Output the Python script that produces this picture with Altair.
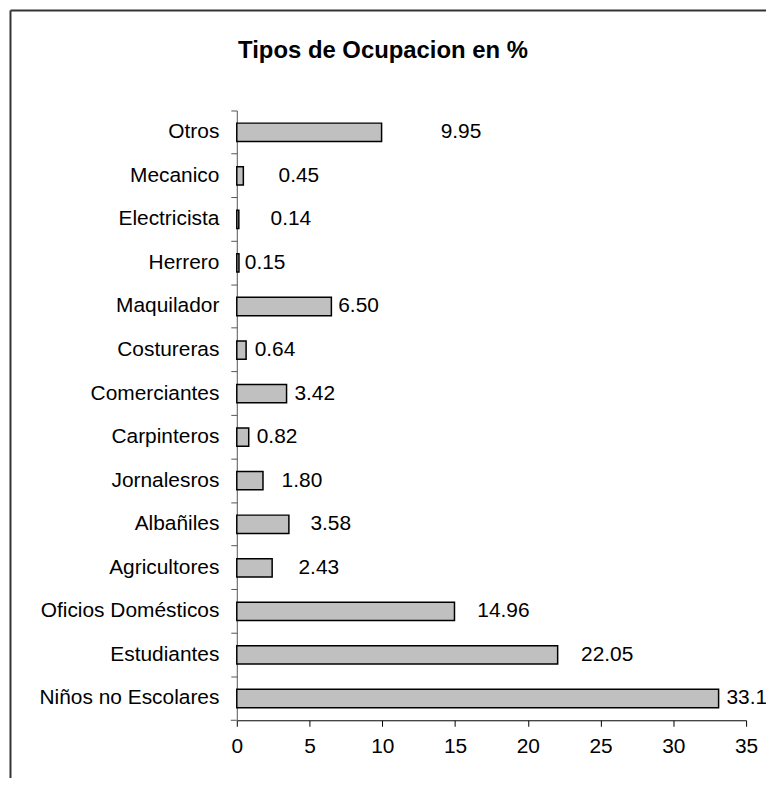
import altair as alt
import pandas as pd

# ---- data ----
categories = [
    "Otros", "Mecanico", "Electricista", "Herrero", "Maquilador",
    "Costureras", "Comerciantes", "Carpinteros", "Jornalesros",
    "Albañiles", "Agricultores", "Oficios Domésticos", "Estudiantes",
    "Niños no Escolares",
]
values = [9.95, 0.45, 0.14, 0.15, 6.50, 0.64, 3.42, 0.82, 1.80, 3.58,
          2.43, 14.96, 22.05, 33.11]
# where each value label starts, in axis units (labels were placed by hand)
label_at = [14.01, 2.87, 2.32, 0.55, 6.97, 1.23, 3.96, 1.37, 3.08, 5.06,
            4.24, 16.53, 23.66, 33.65]
x_ticks = [0, 5, 10, 15, 20, 25, 30, 35]
title_text = "Tipos de Ocupacion en %"

FONT = "Liberation Sans"
FS = 21

df = pd.DataFrame({
    "cat": categories,
    "val": values,
    "lx": label_at,
    "txt": [f"{v:.2f}" for v in values],
})
one = pd.DataFrame({"k": [0]})

x_scale = alt.Scale(domain=[0, 35], nice=False, zero=True)
y_sort = categories

bars = alt.Chart(df).mark_bar(
    fill="#C0C0C0", stroke="black", strokeWidth=1.5,
    height=alt.RelativeBandSize(0.42),
).encode(
    x=alt.X("val:Q", scale=x_scale, axis=alt.Axis(
        values=x_ticks, title=None, grid=False, labelFont=FONT,
        labelFontSize=FS, labelColor="black", labelPadding=9,
        tickSize=6, tickColor="black", domainColor="black",
        labelFlush=False,
    )),
    y=alt.Y("cat:N", sort=y_sort,
            scale=alt.Scale(paddingInner=0, paddingOuter=0),
            axis=alt.Axis(
                title=None, bandPosition=0, grid=False, labelFont=FONT,
                labelFontSize=FS, labelColor="black", labelPadding=12,
                labelLimit=400,
                tickSize=6, tickColor="#555555", domainColor="#555555",
            )),
)

labels = alt.Chart(df).mark_text(
    align="left", baseline="middle", font=FONT, fontSize=FS, color="black",
).encode(
    x=alt.X("lx:Q", scale=x_scale),
    y=alt.Y("cat:N", sort=y_sort),
    text="txt:N",
)

title = alt.Chart(one).mark_text(
    text=title_text, font=FONT, fontSize=24, fontWeight="bold",
    align="center", baseline="alphabetic", color="black",
).encode(x=alt.value(147), y=alt.value(-53))

border_left = alt.Chart(one).mark_rule(color="#333333", strokeWidth=2).encode(
    x=alt.value(-227.5), y=alt.value(-100.5), y2=alt.value(700))
border_top = alt.Chart(one).mark_rule(color="#333333", strokeWidth=2).encode(
    x=alt.value(-227.5), x2=alt.value(600), y=alt.value(-100.5))
bottom_tick = alt.Chart(one).mark_rule(color="#555555", strokeWidth=1).encode(
    x=alt.value(-6), x2=alt.value(0), y=alt.value(613))

chart = alt.layer(border_left, border_top, bottom_tick, bars, labels, title).properties(
    width=512, height=613,
    autosize=alt.AutoSizeParams(type="none"),
    padding={"left": 230, "top": 101, "right": 20, "bottom": 56},
    background="white",
).configure_view(stroke=None)

chart.save("out.html", embed_options={"renderer": "svg", "actions": False})
